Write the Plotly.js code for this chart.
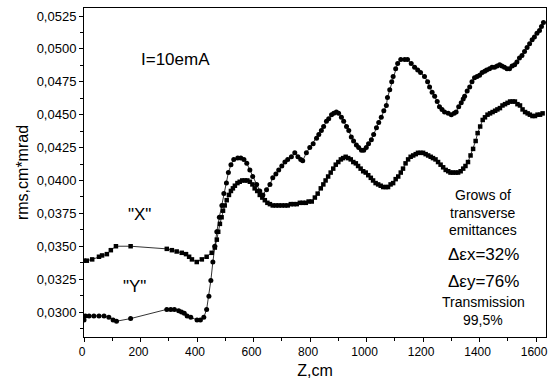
<!DOCTYPE html>
<html><head><meta charset="utf-8">
<script src="https://cdn.plot.ly/plotly-3.0.1.min.js"></script>
<style>html,body{margin:0;padding:0;background:#fff}#chart{width:549px;height:387px}</style>
</head><body><div id="chart"></div>
<script>
// "X" emittance (squares)
const zX = [0,10,29,53,64,81,95,113,165,293,311,328,346,361,372,382,399,417,434,452,463,470,475,481,487,492,498,505,513,520,527,534,543,551,560,569,578,587,596,604,613,622,631,640,649,658,668,679,689,700,711,721,732,742,753,764,774,785,795,806,817,827,838,847,855,864,873,882,891,900,909,917,926,935,944,953,962,970,979,988,997,1006,1015,1023,1032,1041,1050,1059,1068,1076,1085,1094,1103,1112,1121,1129,1138,1147,1156,1165,1174,1182,1191,1200,1209,1218,1227,1235,1244,1253,1262,1271,1280,1289,1297,1306,1315,1324,1333,1342,1350,1359,1368,1377,1386,1393,1402,1411,1419,1428,1437,1446,1455,1463,1472,1481,1490,1499,1508,1517,1525,1534,1543,1552,1561,1570,1578,1587,1596,1605,1614,1623];
const vX = [0.0339,0.0339,0.0340,0.0342,0.0343,0.0344,0.0347,0.0350,0.0350,0.0348,0.0347,0.0346,0.0345,0.0344,0.0342,0.0340,0.0338,0.0340,0.0342,0.0345,0.0349,0.0355,0.0361,0.0367,0.0372,0.0377,0.0381,0.0385,0.0389,0.0392,0.0394,0.0396,0.0398,0.0399,0.0400,0.0400,0.0400,0.0399,0.0397,0.0394,0.0392,0.0389,0.0387,0.0385,0.0383,0.0382,0.0381,0.0381,0.0381,0.0381,0.0381,0.0381,0.0382,0.0382,0.0382,0.0383,0.0383,0.0383,0.0384,0.0384,0.0387,0.0390,0.0394,0.0397,0.0400,0.0403,0.0406,0.0409,0.0412,0.0414,0.0416,0.0417,0.0418,0.0417,0.0416,0.0414,0.0413,0.0411,0.0409,0.0407,0.0406,0.0404,0.0402,0.0400,0.0398,0.0397,0.0396,0.0395,0.0395,0.0395,0.0397,0.0398,0.0401,0.0403,0.0406,0.0409,0.0413,0.0416,0.0418,0.0419,0.0420,0.0421,0.0421,0.0421,0.0420,0.0419,0.0418,0.0417,0.0416,0.0414,0.0412,0.0410,0.0408,0.0407,0.0406,0.0406,0.0406,0.0406,0.0407,0.0409,0.0411,0.0414,0.0419,0.0424,0.0430,0.0436,0.0441,0.0446,0.0448,0.0450,0.0451,0.0452,0.0453,0.0454,0.0455,0.0457,0.0458,0.0459,0.0460,0.0460,0.0460,0.0458,0.0457,0.0454,0.0452,0.0451,0.0450,0.0449,0.0449,0.0450,0.0450,0.0451];
// "Y" emittance (circles)
const zY = [0,5,18,35,53,71,88,103,115,165,293,307,320,335,345,355,365,378,400,412,424,434,442,449,456,463,470,479,488,495,504,511,520,530,544,555,566,576,587,597,611,622,633,646,658,668,679,689,700,711,721,734,746,757,767,774,787,799,811,823,831,840,848,858,866,876,884,893,901,911,919,929,937,946,954,964,972,982,990,999,1007,1017,1025,1035,1043,1052,1061,1070,1074,1082,1089,1094,1103,1110,1121,1135,1145,1158,1170,1181,1191,1205,1216,1223,1232,1241,1250,1258,1267,1276,1289,1300,1310,1317,1326,1335,1342,1347,1356,1365,1373,1382,1391,1400,1409,1418,1425,1435,1444,1453,1462,1471,1479,1488,1497,1506,1515,1524,1532,1541,1550,1559,1568,1577,1586,1594,1603,1612,1619,1626];
const vY = [0.0294,0.0297,0.0297,0.0297,0.0297,0.0297,0.0296,0.0294,0.0293,0.0295,0.0302,0.0302,0.0302,0.0301,0.0300,0.0299,0.0297,0.0296,0.0294,0.0294,0.0296,0.0302,0.0312,0.0324,0.0338,0.0350,0.0361,0.0372,0.0381,0.0390,0.0398,0.0406,0.0412,0.0416,0.0417,0.0417,0.0416,0.0413,0.0408,0.0403,0.0397,0.0392,0.0389,0.0393,0.0397,0.0402,0.0405,0.0408,0.0411,0.0414,0.0416,0.0418,0.0421,0.0418,0.0416,0.0415,0.0421,0.0425,0.0428,0.0432,0.0435,0.0438,0.0441,0.0445,0.0447,0.0450,0.0451,0.0452,0.0451,0.0448,0.0445,0.0441,0.0438,0.0433,0.0430,0.0427,0.0425,0.0423,0.0423,0.0425,0.0428,0.0431,0.0435,0.0440,0.0444,0.0448,0.0453,0.0457,0.0463,0.0469,0.0475,0.0479,0.0485,0.0489,0.0492,0.0492,0.0492,0.0489,0.0486,0.0484,0.0482,0.0479,0.0475,0.0471,0.0467,0.0464,0.0460,0.0456,0.0454,0.0452,0.0451,0.0450,0.0451,0.0452,0.0456,0.0459,0.0462,0.0464,0.0468,0.0471,0.0475,0.0478,0.0479,0.0480,0.0482,0.0483,0.0484,0.0485,0.0486,0.0486,0.0487,0.0488,0.0487,0.0486,0.0485,0.0485,0.0487,0.0488,0.0490,0.0493,0.0495,0.0498,0.0501,0.0504,0.0507,0.0509,0.0512,0.0514,0.0517,0.0520];

const xTicks = [0,200,400,600,800,1000,1200,1400,1600];
const yTicks = [0.0300,0.0325,0.0350,0.0375,0.0400,0.0425,0.0450,0.0475,0.0500,0.0525];
const yTickText = ["0,0300","0,0325","0,0350","0,0375","0,0400","0,0425","0,0450","0,0475","0,0500","0,0525"];

const F = "Liberation Sans, Arial, sans-serif";
const traces = [
  {x:zX, y:vX, mode:'lines+markers', line:{color:'#000',width:0.8}, marker:{symbol:'square',size:4.5,color:'#000'}, name:'X'},
  {x:zY, y:vY, mode:'lines+markers', line:{color:'#000',width:0.8}, marker:{symbol:'circle',size:5,color:'#000'}, name:'Y'}
];
const ann = (t,x,y,s)=>({text:t,x:x,y:y,xref:'paper',yref:'paper',showarrow:false,xanchor:'center',yanchor:'middle',font:{family:F,size:s,color:'#000'}});
const layout = {
  width:549, height:387, showlegend:false,
  margin:{l:84,r:3,t:8,b:50},
  paper_bgcolor:'#fff', plot_bgcolor:'#fff',
  font:{family:F,size:13,color:'#000'},
  xaxis:{range:[0,1635], tickvals:xTicks, ticktext:xTicks.map(String), ticks:'outside', ticklen:4, tickwidth:1, tickcolor:'#000',
    ticklabeloverflow:'allow', ticklabelshift:-2,
    minor:{dtick:100, tick0:0, ticks:'outside', ticklen:3, tickcolor:'#000'},
    showline:true, linecolor:'#000', linewidth:1, mirror:true, showgrid:false, zeroline:false,
    tickfont:{family:F,size:12}, title:{text:'Z,cm', font:{family:F,size:16}, standoff:6}},
  yaxis:{range:[0.0281,0.05311], tickvals:yTicks, ticktext:yTickText, ticks:'outside', ticklen:4, tickwidth:1, tickcolor:'#000',
    ticklabeloverflow:'allow',
    minor:{dtick:0.00125, tick0:0.03, ticks:'outside', ticklen:3, tickcolor:'#000'},
    showline:true, linecolor:'#000', linewidth:1, mirror:true, showgrid:false, zeroline:false,
    tickfont:{family:F,size:13}, title:{text:'rms,cm*mrad', font:{family:F,size:16}, standoff:4}},
  annotations:[
    ann('I=10emA',0.197,0.842,17),
    ann('"X"',0.121,0.371,17),
    ann('"Y"',0.110,0.155,17),
    ann('Grows of',0.864,0.432,14),
    ann('transverse',0.864,0.377,14),
    ann('emittances',0.864,0.325,14),
    ann('Δεx=32%',0.864,0.252,17),
    ann('Δεy=76%',0.864,0.170,17),
    ann('Transmission',0.864,0.106,14),
    ann('99,5%',0.864,0.052,14)
  ]
};
Plotly.newPlot('chart', traces, layout, {displayModeBar:false, staticPlot:true});
</script></body></html>
